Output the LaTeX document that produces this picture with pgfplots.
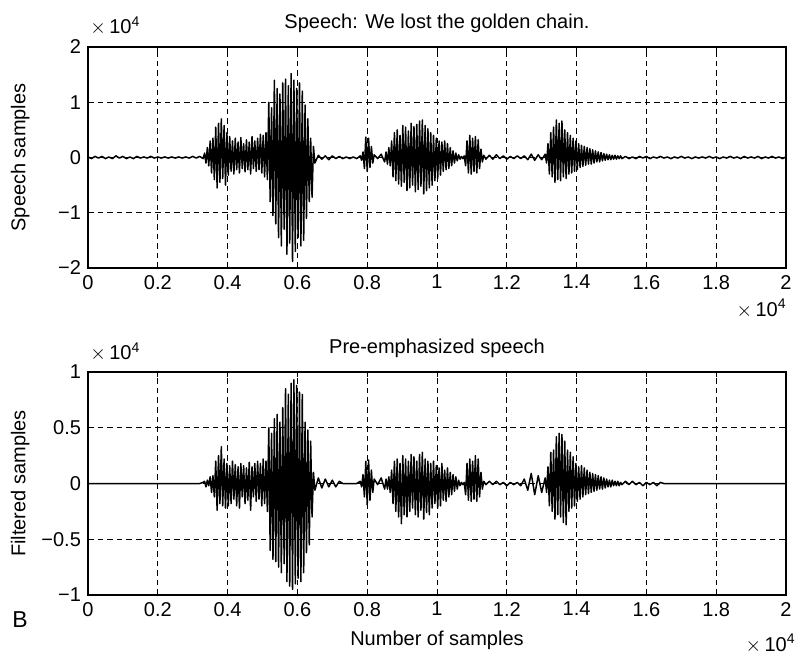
\documentclass[border=0pt]{standalone}
\usepackage{pgfplots}
\usepackage{pgfplotstable}
\usepackage{fontspec}
\setmainfont{Liberation Sans}
\pgfplotsset{compat=1.18}

\pgfplotstableread{
x s f
0.00 0.01 0
0.01 -0.02 0
0.02 0.02 0
0.03 -0.01 0
0.04 0.02 0
0.05 -0.02 0
0.06 0.01 0
0.07 -0.02 0
0.08 0.03 0
0.09 -0.01 0
0.10 0.02 0
0.11 -0.02 0
0.12 0.01 0
0.13 -0.02 0
0.14 0.02 0
0.15 -0.01 0
0.16 0.01 0
0.17 -0.01 0
0.18 0.02 0
0.19 -0.01 0
0.20 0.01 0
0.21 -0.01 0
0.22 0.01 0
0.23 -0.01 0
0.24 0.01 0
0.25 -0.01 0
0.26 0.01 0
0.27 -0.01 0
0.28 0.01 0
0.29 -0.01 0
0.30 0.02 0
0.31 -0.01 0
0.32 0.02 0
0.33 -0.02 0.01
0.334 0.08 0.02
0.338 -0.10 -0.03
0.342 0.18 0.03
0.346 -0.15 -0.02
0.350 0.30 0.06
0.354 -0.28 -0.08
0.358 0.35 0.07
0.362 -0.40 -0.12
0.366 0.55 0.20
0.370 -0.55 -0.24
0.374 0.62 0.25
0.378 -0.45 -0.18
0.382 0.70 0.33
0.386 -0.38 -0.20
0.390 0.58 0.22
0.394 -0.50 -0.22
0.398 0.45 0.18
0.402 -0.32 -0.20
0.406 0.38 0.16
0.410 -0.25 -0.18
0.414 0.30 0.20
0.418 -0.30 -0.14
0.422 0.35 0.17
0.426 -0.22 -0.20
0.430 0.28 0.15
0.434 -0.28 -0.22
0.438 0.36 0.18
0.442 -0.20 -0.12
0.446 0.25 0.16
0.450 -0.26 -0.18
0.454 0.32 0.14
0.458 -0.22 -0.15
0.462 0.28 0.19
0.466 -0.30 -0.24
0.470 0.38 0.15
0.474 -0.20 -0.12
0.478 0.30 0.18
0.482 -0.25 -0.16
0.486 0.35 0.20
0.490 -0.22 -0.14
0.494 0.42 0.18
0.498 -0.28 -0.20
0.502 0.40 0.22
0.506 -0.35 -0.18
0.510 0.45 0.20
0.514 -0.40 -0.25
0.518 1.00 0.50
0.522 -0.80 -0.60
0.526 0.90 0.45
0.530 -1.05 -0.68
0.534 1.40 0.58
0.538 -1.20 -0.70
0.542 1.25 0.62
0.546 -1.45 -0.75
0.550 1.15 0.55
0.554 -1.60 -0.80
0.558 1.35 0.68
0.562 -1.30 -0.72
0.566 1.42 0.85
0.570 -1.75 -0.88
0.574 1.30 0.80
0.578 -1.55 -0.92
0.582 1.52 0.90
0.586 -1.88 -0.95
0.590 1.40 0.93
0.594 -1.70 -0.90
0.598 1.25 0.88
0.602 -1.45 -0.85
0.606 1.35 0.82
0.610 -1.60 -0.88
0.614 1.20 0.80
0.618 -1.50 -0.80
0.622 0.95 0.55
0.626 -1.10 -0.62
0.630 0.70 0.48
0.634 -0.80 -0.55
0.638 0.35 0.38
0.642 -0.72 -0.30
0.646 0.20 0.10
0.650 -0.10 -0.06
0.66 0.04 0.05
0.67 -0.03 -0.04
0.68 0.03 0.04
0.69 -0.04 -0.03
0.70 0.03 0.03
0.71 -0.02 -0.03
0.72 0.02 0.02
0.73 -0.02 0
0.74 0.01 0
0.75 -0.02 0
0.76 0.01 0
0.77 -0.02 0
0.78 0.03 0.02
0.784 -0.05 -0.03
0.788 0.10 0.08
0.792 -0.20 -0.12
0.796 0.37 0.20
0.800 -0.25 -0.19
0.804 0.35 0.21
0.808 -0.18 -0.15
0.812 0.20 0.12
0.816 -0.10 -0.08
0.820 0.05 0.04
0.83 -0.02 -0.01
0.84 0.06 0.05
0.85 -0.08 -0.05
0.854 0.10 0.04
0.858 -0.12 -0.05
0.862 0.18 0.06
0.866 -0.15 -0.08
0.870 0.30 0.12
0.874 -0.35 -0.18
0.878 0.45 0.20
0.882 -0.42 -0.25
0.886 0.50 0.22
0.890 -0.48 -0.30
0.894 0.40 0.18
0.898 -0.52 -0.36
0.902 0.58 0.25
0.906 -0.45 -0.28
0.910 0.55 0.22
0.914 -0.60 -0.30
0.918 0.48 0.20
0.922 -0.55 -0.25
0.926 0.62 0.26
0.930 -0.50 -0.22
0.934 0.56 0.24
0.938 -0.62 -0.28
0.942 0.60 0.20
0.946 -0.58 -0.30
0.950 0.66 0.26
0.954 -0.52 -0.24
0.958 0.68 0.28
0.962 -0.66 -0.32
0.966 0.58 0.22
0.970 -0.60 -0.26
0.974 0.52 0.20
0.978 -0.55 -0.28
0.982 0.45 0.18
0.986 -0.50 -0.22
0.990 0.40 0.20
0.994 -0.42 -0.18
0.998 0.35 0.16
1.002 -0.38 -0.22
1.006 0.30 0.14
1.010 -0.32 -0.20
1.014 0.28 0.18
1.018 -0.25 -0.15
1.022 0.30 0.12
1.026 -0.22 -0.16
1.030 0.25 0.14
1.034 -0.20 -0.12
1.038 0.18 0.10
1.042 -0.15 -0.10
1.046 0.12 0.08
1.050 -0.10 -0.07
1.054 0.08 0.06
1.058 -0.06 -0.05
1.062 0.05 0.03
1.066 -0.03 -0.02
1.070 0.02 0.01
1.074 -0.02 -0.01
1.078 0.03 0.01
1.082 -0.15 -0.10
1.086 0.30 0.18
1.090 -0.28 -0.15
1.094 0.40 0.22
1.098 -0.30 -0.16
1.102 0.35 0.20
1.106 -0.25 -0.14
1.110 0.38 0.25
1.114 -0.28 -0.16
1.118 0.32 0.22
1.122 -0.20 -0.12
1.126 0.15 0.10
1.130 -0.08 -0.05
1.134 0.04 0.02
1.14 -0.03 -0.01
1.15 0.04 0.02
1.16 -0.03 -0.01
1.17 0.05 0.02
1.18 -0.02 -0.01
1.19 0.03 0.01
1.20 -0.03 -0.02
1.21 0.02 0.01
1.22 -0.02 -0.01
1.23 0.03 0.01
1.24 -0.02 -0.02
1.25 0.03 0.04
1.26 -0.04 -0.06
1.27 0.06 0.09
1.28 -0.05 -0.10
1.29 0.05 0.07
1.30 -0.04 -0.08
1.31 0.06 0.05
1.314 -0.10 -0.08
1.318 0.25 0.15
1.322 -0.30 -0.20
1.326 0.45 0.28
1.330 -0.35 -0.25
1.334 0.55 0.30
1.338 -0.45 -0.32
1.342 0.68 0.42
1.346 -0.40 -0.28
1.350 0.62 0.45
1.354 -0.42 -0.30
1.358 0.66 0.44
1.362 -0.35 -0.35
1.366 0.50 0.38
1.370 -0.38 -0.37
1.374 0.45 0.30
1.378 -0.30 -0.25
1.382 0.40 0.28
1.386 -0.28 -0.22
1.390 0.35 0.24
1.394 -0.25 -0.20
1.398 0.30 0.18
1.402 -0.22 -0.16
1.406 0.25 0.15
1.410 -0.18 -0.14
1.414 0.22 0.16
1.418 -0.16 -0.12
1.422 0.20 0.14
1.426 -0.14 -0.10
1.430 0.18 0.12
1.434 -0.12 -0.09
1.438 0.16 0.10
1.442 -0.12 -0.08
1.446 0.14 0.09
1.450 -0.10 -0.07
1.454 0.12 0.08
1.458 -0.08 -0.06
1.462 0.10 0.07
1.466 -0.08 -0.05
1.470 0.09 0.06
1.474 -0.06 -0.05
1.478 0.07 0.05
1.482 -0.05 -0.04
1.486 0.06 0.04
1.490 -0.04 -0.03
1.494 0.05 0.03
1.498 -0.04 -0.03
1.502 0.04 0.03
1.506 -0.03 -0.02
1.510 0.04 0.02
1.514 -0.03 -0.02
1.518 0.03 0.02
1.522 -0.02 -0.02
1.526 0.03 0.01
1.530 -0.02 -0.01
1.54 0.02 0.02
1.55 -0.02 -0.01
1.56 0.01 0.02
1.57 -0.02 -0.01
1.58 0.02 0.01
1.59 -0.01 -0.02
1.60 0.02 0.01
1.61 -0.02 -0.01
1.62 0.01 0.01
1.63 -0.01 -0.02
1.64 0.02 0.01
1.65 -0.01 0
1.66 0.01 0
1.67 -0.02 0
1.68 0.01 0
1.69 -0.01 0
1.70 0.02 0
1.71 -0.01 0
1.72 0.01 0
1.73 -0.02 0
1.74 0.01 0
1.75 -0.01 0
1.76 0.01 0
1.77 -0.01 0
1.78 0.02 0
1.79 -0.01 0
1.80 0.01 0
1.81 -0.02 0
1.82 0.01 0
1.83 -0.01 0
1.84 0.02 0
1.85 -0.01 0
1.86 0.01 0
1.87 -0.02 0
1.88 0.02 0
1.89 -0.01 0
1.90 0.01 0
1.91 -0.01 0
1.92 0.02 0
1.93 -0.02 0
1.94 0.01 0
1.95 -0.01 0
1.96 0.02 0
1.97 -0.01 0
1.98 0.01 0
1.99 -0.02 0
2.00 0.01 0
}\data

\newcommand{\fs}{\fontsize{10}{12}\selectfont}
\newcommand{\tenfour}{$\times$\,10\textsuperscript{4}}

\pgfplotsset{
  matax/.style={
    scale only axis,
    width=349pt,
    anchor=north west,
    xmin=0, xmax=2,
    xtick={0,0.2,0.4,0.6,0.8,1,1.2,1.4,1.6,1.8,2},
    xticklabels={0,0.2,0.4,0.6,0.8,1,1.2,1.4,1.6,1.8,2},
    grid=major,
    major grid style={black, line width=0.35pt, dash pattern=on 2.8pt off 2pt},
    axis line style={black, line width=0.6pt},
    tick align=inside,
    major tick length=2.5pt,
    tick style={black, line width=0.5pt},
    tick label style={font=\fs},
    label style={font=\fs},
    ylabel style={at={(axis description cs:-0.097,0.5)}, anchor=center},
    clip mode=individual,
  },
}

\begin{document}
\begin{tikzpicture}[font=\fs]
\path[use as bounding box] (-44pt,23.5pt) rectangle (357pt,-304pt);

\begin{axis}[matax, at={(0pt,0pt)}, height=110.5pt,
  ymin=-2, ymax=2,
  ytick={-2,-1,0,1,2},
  yticklabels={−2,−1,0,1,2},
  ylabel={Speech samples},
]
\addplot[black, line width=0.75pt, line join=round, mark=none] table[x=x, y=s] {\data};
\node[anchor=base, font=\fs] at (rel axis cs:0.5,1) [yshift=9.5pt] {Speech: We lost the golden chain.};
\node[anchor=base west, font=\fs, inner sep=0pt] at (rel axis cs:0,1) [xshift=1pt, yshift=6.7pt] {\tenfour};
\node[anchor=base east, font=\fs, inner sep=0pt] at (rel axis cs:1,0) [xshift=0.5pt, yshift=-24pt] {\tenfour};
\end{axis}

\begin{axis}[matax, at={(0pt,-162.5pt)}, height=111.5pt,
  ymin=-1, ymax=1,
  ytick={-1,-0.5,0,0.5,1},
  yticklabels={−1,−0.5,0,0.5,1},
  ylabel={Filtered samples},
  xlabel={Number of samples},
  xlabel style={at={(axis description cs:0.5,0)}, anchor=base, yshift=-25pt},
]
\addplot[black, line width=0.75pt, line join=round, mark=none] table[x=x, y=f] {\data};
\node[anchor=base, font=\fs] at (rel axis cs:0.5,1) [yshift=9.5pt] {Pre-emphasized speech};
\node[anchor=base west, font=\fs, inner sep=0pt] at (rel axis cs:0,1) [xshift=1pt, yshift=6.3pt] {\tenfour};
\node[anchor=base east, font=\fs, inner sep=0pt] at (rel axis cs:1,0) [xshift=5pt, yshift=-28pt] {\tenfour};
\node[anchor=base west, font=\fontsize{11.5}{12}\selectfont, inner sep=0pt] at (rel axis cs:0,0) [xshift=-38pt, yshift=-16pt] {B};
\end{axis}
\end{tikzpicture}
\end{document}
